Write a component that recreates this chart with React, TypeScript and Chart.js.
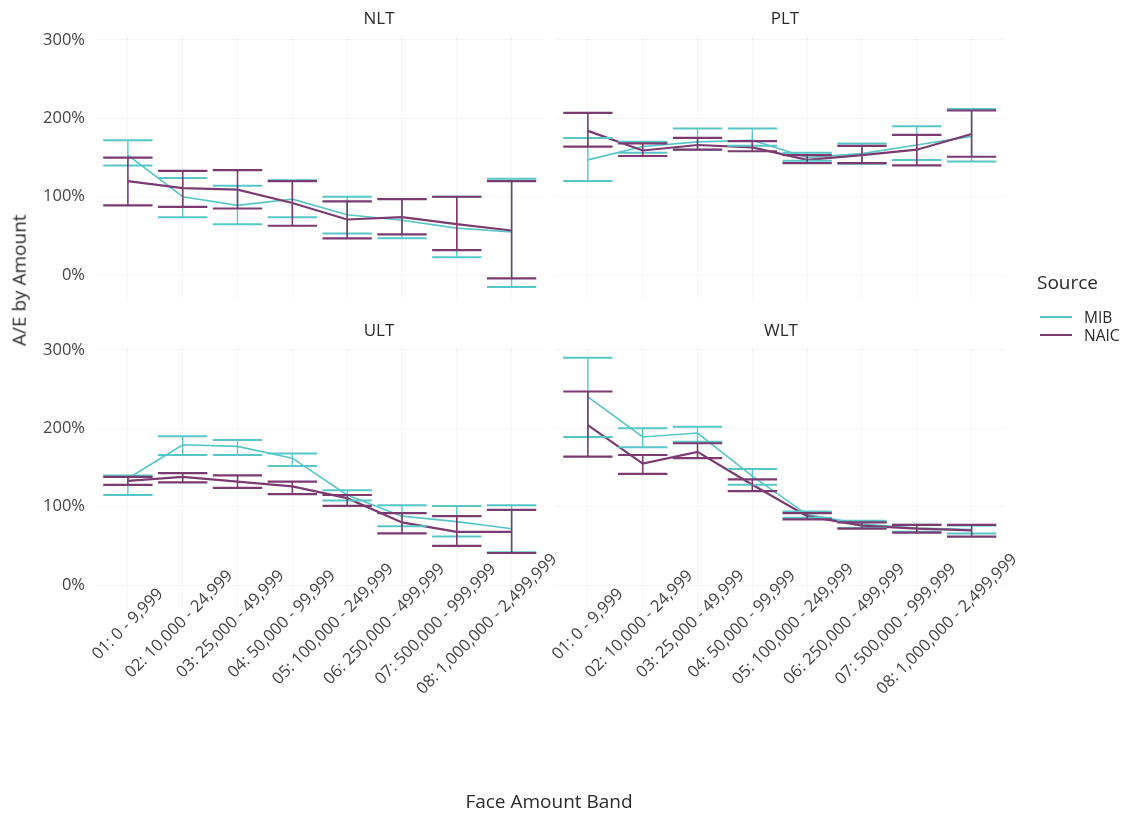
import React, { useEffect, useRef } from 'react';
import { Chart, registerables } from 'chart.js';

Chart.register(...registerables);

// ---------------- data ----------------
const categories = [
  '01: 0 - 9,999',
  '02: 10,000 - 24,999',
  '03: 25,000 - 49,999',
  '04: 50,000 - 99,999',
  '05: 100,000 - 249,999',
  '06: 250,000 - 499,999',
  '07: 500,000 - 999,999',
  '08: 1,000,000 - 2,499,999',
];
const sources = ['MIB', 'NAIC'];
const yTickValues = [0, 100, 200, 300];

// NLT
const nltMibValue = [153, 100, 89, 97, 77, 70, 60, 55];
const nltMibLow = [140, 74, 65, 74, 53, 47, 23, -15];
const nltMibHigh = [172, 124, 114, 121, 100, 97, 100, 123];
const nltNaicValue = [120, 111, 109, 92, 71, 74, 65, 57];
const nltNaicLow = [89, 87, 85, 63, 47, 52, 32, -4];
const nltNaicHigh = [150, 133, 134, 120, 94, 97, 100, 120];

// PLT
const pltMibValue = [147, 164, 170, 172, 150, 155, 166, 177];
const pltMibLow = [120, 156, 160, 165, 146, 142, 147, 145];
const pltMibHigh = [175, 170, 187, 187, 156, 168, 190, 212];
const pltNaicValue = [184, 159, 166, 163, 147, 153, 160, 180];
const pltNaicLow = [164, 152, 160, 158, 143, 143, 140, 151];
const pltNaicHigh = [207, 168, 175, 171, 153, 165, 179, 210];

// ULT
const ultMibValue = [136, 179, 177, 162, 115, 88, 81, 72];
const ultMibLow = [115, 166, 166, 152, 108, 75, 62, 42];
const ultMibHigh = [140, 190, 185, 168, 121, 102, 101, 102];
const ultNaicValue = [133, 138, 132, 126, 111, 80, 68, 68];
const ultNaicLow = [128, 131, 124, 116, 101, 66, 50, 41];
const ultNaicHigh = [138, 143, 140, 132, 115, 92, 88, 96];

// WLT
const wltMibValue = [240, 189, 194, 139, 90, 78, 73, 71];
const wltMibLow = [189, 176, 183, 128, 86, 73, 68, 66];
const wltMibHigh = [290, 200, 202, 148, 94, 82, 77, 76];
const wltNaicValue = [204, 155, 170, 128, 88, 76, 72, 70];
const wltNaicLow = [164, 142, 162, 120, 84, 72, 67, 62];
const wltNaicHigh = [247, 166, 181, 135, 92, 80, 77, 77];

// ---------------- styling / layout ----------------
const PAGE_W = 1127;
const PAGE_H = 819;
const FONT = '"Open Sans", "Noto Sans", sans-serif';
const MIB_COLOR = '#56c6c6';
const NAIC_COLOR = '#7b3b70';
const GRID_COLOR = 'rgba(0,0,0,0.04)';
const TICK_COLOR = '#444444';
const TITLE_COLOR = '#2a2a2a';

const COL_LEFT = [95, 555];
const COL_RIGHT = [544.5, 1004.5];
const ROW_TOP = [36, 346];
const ROW_BOTTOM = [298.7, 608.7];
const Y_AXIS_W = 60;
const Y_MIN = -30;
const Y_MAX = 305;
const CAP_HALF = 0.45;
const LABEL_SPREAD = 0.936;
const LABEL_DROP = 15.5;

type Series = { value: number[]; low: number[]; high: number[] };
type PanelDef = { name: string; col: number; row: number; mib: Series; naic: Series };

const panels: PanelDef[] = [
  { name: 'NLT', col: 0, row: 0, mib: { value: nltMibValue, low: nltMibLow, high: nltMibHigh }, naic: { value: nltNaicValue, low: nltNaicLow, high: nltNaicHigh } },
  { name: 'PLT', col: 1, row: 0, mib: { value: pltMibValue, low: pltMibLow, high: pltMibHigh }, naic: { value: pltNaicValue, low: pltNaicLow, high: pltNaicHigh } },
  { name: 'ULT', col: 0, row: 1, mib: { value: ultMibValue, low: ultMibLow, high: ultMibHigh }, naic: { value: ultNaicValue, low: ultNaicLow, high: ultNaicHigh } },
  { name: 'WLT', col: 1, row: 1, mib: { value: wltMibValue, low: wltMibLow, high: wltMibHigh }, naic: { value: wltNaicValue, low: wltNaicLow, high: wltNaicHigh } },
];

const errorBarPlugin = {
  id: 'errorBars',
  afterDatasetsDraw(chart: any) {
    const ctx = chart.ctx;
    const xs = chart.scales.x;
    const ys = chart.scales.y;
    chart.data.datasets.forEach((ds: any) => {
      const lows: number[] = ds.errLow;
      const highs: number[] = ds.errHigh;
      ctx.save();
      ctx.strokeStyle = ds.borderColor;
      ctx.lineCap = 'butt';
      lows.forEach((lo, i) => {
        const xv = i + 1;
        const x = xs.getPixelForValue(xv);
        const xa = xs.getPixelForValue(xv - CAP_HALF);
        const xb = xs.getPixelForValue(xv + CAP_HALF);
        const yl = ys.getPixelForValue(lo);
        const yh = ys.getPixelForValue(highs[i]);
        ctx.lineWidth = ds.stemWidth;
        ctx.beginPath();
        ctx.moveTo(x, yl);
        ctx.lineTo(x, yh);
        ctx.stroke();
        ctx.lineWidth = ds.capWidth;
        ctx.beginPath();
        ctx.moveTo(xa, yl);
        ctx.lineTo(xb, yl);
        ctx.moveTo(xa, yh);
        ctx.lineTo(xb, yh);
        ctx.stroke();
      });
      ctx.restore();
    });
  },
};

const xLabelPlugin = {
  id: 'xLabels',
  afterDraw(chart: any, _args: any, opts: any) {
    if (!opts || !opts.show) return;
    const ctx = chart.ctx;
    const xs = chart.scales.x;
    const first = xs.getPixelForValue(1);
    ctx.save();
    ctx.font = `16.5px ${FONT}`;
    ctx.fillStyle = TICK_COLOR;
    ctx.textAlign = 'center';
    ctx.textBaseline = 'middle';
    categories.forEach((lab, i) => {
      const px = xs.getPixelForValue(i + 1);
      const cx = first + (px - first) * LABEL_SPREAD;
      const cy = chart.chartArea.bottom + LABEL_DROP;
      ctx.save();
      ctx.translate(cx, cy);
      ctx.rotate(-Math.PI / 4);
      ctx.fillText(lab, 0, 0);
      ctx.restore();
    });
    ctx.restore();
  },
};

function Panel({ p }: { p: PanelDef }) {
  const ref = useRef<HTMLCanvasElement>(null);
  useEffect(() => {
    const showY = p.col === 0;
    const yW = showY ? Y_AXIS_W : 0;
    const mk = (s: Series) => s.value.map((v, i) => ({ x: i + 1, y: v }));
    const chart = new Chart(ref.current as HTMLCanvasElement, {
      type: 'line',
      data: {
        datasets: [
          {
            label: sources[0],
            data: mk(p.mib),
            borderColor: MIB_COLOR,
            borderWidth: 1.6,
            pointRadius: 0,
            tension: 0,
            order: 1,
            errLow: p.mib.low,
            errHigh: p.mib.high,
            stemWidth: 1.4,
            capWidth: 2,
          } as any,
          {
            label: sources[1],
            data: mk(p.naic),
            borderColor: NAIC_COLOR,
            borderWidth: 2.2,
            pointRadius: 0,
            tension: 0,
            order: 0,
            errLow: p.naic.low,
            errHigh: p.naic.high,
            stemWidth: 1.6,
            capWidth: 2.2,
          } as any,
        ],
      },
      options: {
        responsive: false,
        maintainAspectRatio: false,
        animation: false,
        devicePixelRatio: 1,
        events: [],
        layout: {
          padding: {
            left: COL_LEFT[p.col] - yW,
            right: PAGE_W - COL_RIGHT[p.col],
            top: ROW_TOP[p.row],
            bottom: PAGE_H - ROW_BOTTOM[p.row],
          },
        },
        plugins: {
          legend: { display: false },
          tooltip: { enabled: false },
          title: { display: false },
          xLabels: { show: p.row === 1 },
        } as any,
        scales: {
          x: {
            type: 'linear',
            min: 0.4,
            max: 8.6,
            grid: { color: GRID_COLOR, drawTicks: false },
            border: { display: false },
            ticks: { display: false },
            afterBuildTicks: (s: any) => {
              s.ticks = categories.map((_, i) => ({ value: i + 1 }));
            },
            afterFit: (s: any) => {
              s.height = 0;
            },
          },
          y: {
            type: 'linear',
            min: Y_MIN,
            max: Y_MAX,
            grid: { color: GRID_COLOR, drawTicks: false },
            border: { display: false },
            ticks: {
              display: showY,
              padding: 10,
              color: TICK_COLOR,
              font: { family: FONT, size: 16.5 },
              callback: (v: any) => `${v}%`,
            },
            afterBuildTicks: (s: any) => {
              s.ticks = yTickValues.map((v) => ({ value: v }));
            },
            afterFit: (s: any) => {
              s.width = yW;
            },
          },
        },
      },
      plugins: [errorBarPlugin, xLabelPlugin],
    });
    return () => chart.destroy();
  }, [p]);
  return (
    <canvas
      ref={ref}
      width={PAGE_W}
      height={PAGE_H}
      style={{ position: 'absolute', left: 0, top: 0, width: PAGE_W, height: PAGE_H, pointerEvents: 'none' }}
    />
  );
}

const stripCenters = [
  { name: 'NLT', x: 379, y: 18 },
  { name: 'PLT', x: 785, y: 18 },
  { name: 'ULT', x: 379, y: 330 },
  { name: 'WLT', x: 781, y: 330 },
];

export default function App() {
  const text = (s: string, x: number, y: number, size: number, extra: any = {}) => (
    <div
      key={s}
      style={{
        position: 'absolute',
        left: x - 150,
        top: y - size * 0.7,
        width: 300,
        textAlign: 'center',
        fontFamily: FONT,
        fontSize: size,
        lineHeight: `${size * 1.4}px`,
        color: TITLE_COLOR,
        whiteSpace: 'nowrap',
        ...extra,
      }}
    >
      {s}
    </div>
  );
  return (
    <div style={{ position: 'absolute', left: 0, top: 0, width: PAGE_W, height: PAGE_H, background: '#fff', overflow: 'hidden' }}>
      {panels.map((p) => (
        <Panel key={p.name} p={p} />
      ))}
      {stripCenters.map((s) => text(s.name, s.x, s.y, 17))}
      {text('Face Amount Band', 549, 801, 19)}
      {text('A/E by Amount', 19, 280, 19, { transform: 'rotate(-90deg)' })}
      <div style={{ position: 'absolute', left: 1037, top: 268, fontFamily: FONT, fontSize: 19, color: TITLE_COLOR, lineHeight: '28px' }}>
        Source
      </div>
      {sources.map((s, i) => (
        <React.Fragment key={s}>
          <div
            style={{
              position: 'absolute',
              left: 1040,
              top: 317 + i * 18 - 1,
              width: 32,
              height: i === 0 ? 1.6 : 2.2,
              background: i === 0 ? MIB_COLOR : NAIC_COLOR,
            }}
          />
          <div
            style={{
              position: 'absolute',
              left: 1084,
              top: 317 + i * 18 - 11,
              fontFamily: FONT,
              fontSize: 15.5,
              lineHeight: '22px',
              color: TITLE_COLOR,
            }}
          >
            {s}
          </div>
        </React.Fragment>
      ))}
    </div>
  );
}
